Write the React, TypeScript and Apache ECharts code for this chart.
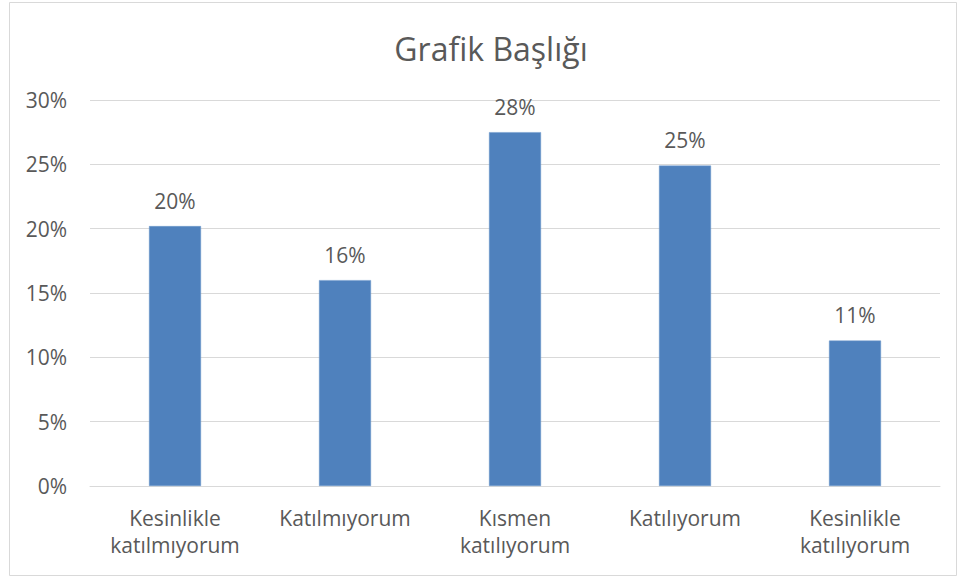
import React, { useEffect, useRef } from "react";
import * as echarts from "echarts";

const titleText = "Grafik Başlığı";
const categories = [
  "Kesinlikle\nkatılmıyorum",
  "Katılmıyorum",
  "Kısmen\nkatılıyorum",
  "Katılıyorum",
  "Kesinlikle\nkatılıyorum",
];
const values = [20.2, 16.0, 27.5, 24.9, 11.3];
const yTicks = { min: 0, max: 30, interval: 5 };

const TEXT = "#595959";
const GRID = "#d9d9d9";
const BAR = "#4f81bd";
const FONT = "'Open Sans', Lato, sans-serif";

export default function App() {
  const ref = useRef<HTMLDivElement>(null);
  useEffect(() => {
    document.body.style.margin = "0";
    if (!ref.current) return;
    const chart = echarts.init(ref.current, null, { renderer: "svg" });
    chart.setOption({
      animation: false,
      backgroundColor: "#ffffff",
      textStyle: { fontFamily: FONT },
      title: {
        text: titleText,
        left: 486,
        textAlign: "center",
        top: 27,
        textStyle: { fontFamily: FONT, fontSize: 32, fontWeight: "normal", color: TEXT },
      },
      graphic: [
        {
          type: "rect",
          shape: { x: 9.5, y: 2.5, width: 947, height: 573 },
          style: { fill: "none", stroke: GRID, lineWidth: 1 },
          silent: true,
        },
      ],
      grid: { left: 90, right: 21, top: 100, bottom: 92, containLabel: false },
      xAxis: {
        type: "category",
        data: categories,
        axisLine: { show: true, lineStyle: { color: GRID, width: 1 } },
        axisTick: { show: false },
        axisLabel: {
          color: TEXT,
          fontFamily: FONT,
          fontSize: 21,
          lineHeight: 27,
          margin: 18,
          interval: 0,
        },
      },
      yAxis: {
        type: "value",
        min: yTicks.min,
        max: yTicks.max,
        interval: yTicks.interval,
        axisLine: { show: false },
        axisTick: { show: false },
        splitLine: { lineStyle: { color: GRID, width: 1 } },
        axisLabel: {
          color: TEXT,
          fontFamily: FONT,
          fontSize: 21,
          margin: 23,
          formatter: (v: number) => `${v}%`,
        },
      },
      series: [
        {
          type: "bar",
          data: values,
          barWidth: 52,
          itemStyle: { color: BAR, borderColor: "#6d98cc", borderWidth: 0.5 },
          label: {
            show: true,
            position: "top",
            distance: 15,
            color: TEXT,
            fontFamily: FONT,
            fontSize: 21,
            formatter: (p: any) => `${Math.round(p.value)}%`,
          },
        },
      ],
    });
    return () => chart.dispose();
  }, []);
  return <div ref={ref} style={{ width: 961, height: 578 }} />;
}
